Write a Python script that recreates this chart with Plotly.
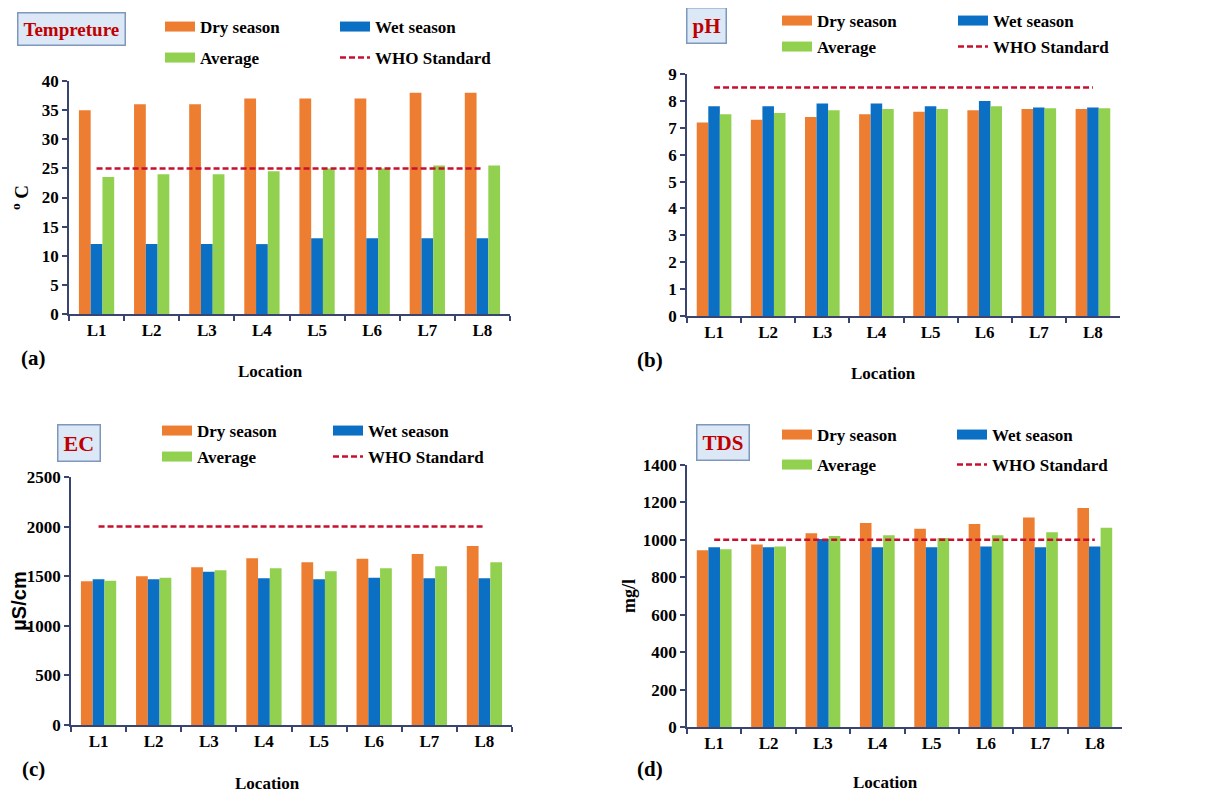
import plotly.graph_objects as go

W, H = 1210, 794
OFF = 8  # page body margin offset in the browser

# ---------------- data ----------------
locations = ["L1", "L2", "L3", "L4", "L5", "L6", "L7", "L8"]

temp_dry = [35, 36, 36, 37, 37, 37, 38, 38]
temp_wet = [12, 12, 12, 12, 13, 13, 13, 13]
temp_avg = [23.5, 24, 24, 24.5, 25, 25, 25.5, 25.5]
temp_who = [25, 25, 25, 25, 25, 25, 25, 25]

ph_dry = [7.2, 7.3, 7.4, 7.5, 7.6, 7.65, 7.7, 7.7]
ph_wet = [7.8, 7.8, 7.9, 7.9, 7.8, 8.0, 7.75, 7.75]
ph_avg = [7.5, 7.55, 7.65, 7.7, 7.7, 7.8, 7.73, 7.73]
ph_who = [8.5, 8.5, 8.5, 8.5, 8.5, 8.5, 8.5, 8.5]

ec_dry = [1450, 1500, 1590, 1680, 1640, 1675, 1725, 1805]
ec_wet = [1470, 1470, 1545, 1480, 1470, 1485, 1480, 1480]
ec_avg = [1455, 1485, 1560, 1580, 1550, 1580, 1600, 1640]
ec_who = [2000, 2000, 2000, 2000, 2000, 2000, 2000, 2000]

tds_dry = [945, 975, 1035, 1090, 1060, 1085, 1120, 1170]
tds_wet = [960, 960, 1005, 960, 960, 965, 960, 965]
tds_avg = [950, 965, 1020, 1025, 1010, 1025, 1040, 1065]
tds_who = [1000, 1000, 1000, 1000, 1000, 1000, 1000, 1000]

series_names = ["Dry season", "Wet season", "Average", "WHO Standard"]
panel_titles = ["Tempreture", "pH", "EC", "TDS"]
panel_letters = ["(a)", "(b)", "(c)", "(d)"]
y_titles = ["<sup>o</sup> C", None, "µS/cm", "mg/l"]
y_ranges = [[0, 40], [0, 9], [0, 2500], [0, 1400]]
y_dtick = [5, 1, 500, 200]

panels = [
    (temp_dry, temp_wet, temp_avg, temp_who),
    (ph_dry, ph_wet, ph_avg, ph_who),
    (ec_dry, ec_wet, ec_avg, ec_who),
    (tds_dry, tds_wet, tds_avg, tds_who),
]

# ---------------- styling ----------------
C_DRY = "#ED7D31"
C_WET = "#0B6FC4"
C_AVG = "#92D050"
C_WHO = "#C8102E"
AXIS_C = "#3A4470"
SERIF = "Liberation Serif"


def px_x(v):
    return (v - OFF) / W


def px_y(v):
    return 1 - (v - OFF) / H


# plot areas in pixels: (left, right, top, bottom)
areas = [
    (69, 510, 81, 314),
    (687, 1120, 74, 316),
    (71, 512, 477, 725),
    (687, 1122, 465, 727),
]
# legend layout per panel: (col1 text x, col2 text x, row1 y, row2 y)
leg_pos = [
    (200, 375, 27, 58),
    (817, 993, 21, 47),
    (197, 368, 431, 457),
    (817, 992, 435, 465),
]
# title boxes: (center x, center y, font size)
title_pos = [
    (71.5, 29, 19),
    (706, 25.5, 21),
    (79, 442.5, 22),
    (722.5, 442.5, 21),
]
letter_pos = [(33, 358), (650, 360), (33, 769), (650, 769)]
location_pos = [(270, 372), (883, 373), (267, 783), (885, 782)]
ytitle_standoff = [14, 0, 10, 3]
ytitle_font = [
    dict(family=SERIF, size=19, color="black", weight="bold"),
    dict(family=SERIF, size=18, color="black", weight="bold"),
    dict(family="Liberation Sans", size=20, color="black", weight="bold"),
    dict(family=SERIF, size=18, color="black", weight="bold"),
]

fig = go.Figure()
layout = {}
annotations = []

tick_font = dict(family=SERIF, size=17, color="black", weight="bold")
leg_font = dict(family=SERIF, size=17, color="black", weight="bold")

leg_idx = 1
for i, (dry, wet, avg, who) in enumerate(panels):
    n = i + 1
    xa = "x" if n == 1 else f"x{n}"
    ya = "y" if n == 1 else f"y{n}"
    xkey = "xaxis" if n == 1 else f"xaxis{n}"
    ykey = "yaxis" if n == 1 else f"yaxis{n}"
    L, R, T, B = areas[i]

    legs = []
    for k in range(4):
        lname = "legend" if leg_idx == 1 else f"legend{leg_idx}"
        legs.append(lname)
        leg_idx += 1

    for vals, col, name in [(dry, C_DRY, series_names[0]),
                            (wet, C_WET, series_names[1]),
                            (avg, C_AVG, series_names[2])]:
        fig.add_trace(go.Bar(x=locations, y=vals, marker=dict(color=col, line=dict(width=0)),
                             name=name, showlegend=False, xaxis=xa, yaxis=ya))
    fig.add_trace(go.Scatter(x=locations, y=who, mode="lines",
                             line=dict(color=C_WHO, width=2.5, dash="6px,3px"),
                             name=series_names[3], legend=legs[3], xaxis=xa, yaxis=ya))
    # legend swatches for the bar series
    for col, name, lg in [(C_DRY, series_names[0], legs[0]),
                          (C_WET, series_names[1], legs[1]),
                          (C_AVG, series_names[2], legs[2])]:
        fig.add_trace(go.Scatter(x=[None], y=[None], mode="lines",
                                 line=dict(color=col, width=10), name=name,
                                 legend=lg, xaxis=xa, yaxis=ya))

    c1, c2, r1, r2 = leg_pos[i]
    for lg, (tx, ty) in zip(legs, [(c1, r1), (c2, r1), (c1, r2), (c2, r2)]):
        layout[lg] = dict(x=px_x(tx - 40), y=px_y(ty), xanchor="left", yanchor="middle",
                          xref="paper", yref="paper",
                          bgcolor="rgba(0,0,0,0)", borderwidth=0, font=leg_font,
                          tracegroupgap=0)

    layout[xkey] = dict(domain=[px_x(L), px_x(R)], anchor=ya, type="category",
                        showline=True, linecolor=AXIS_C, linewidth=1.5,
                        ticks="outside", tickson="boundaries", ticklen=5,
                        tickcolor=AXIS_C, tickwidth=1.5,
                        tickfont=tick_font, showgrid=False, zeroline=False,
                        fixedrange=True)
    yax = dict(domain=[px_y(B), px_y(T)], anchor=xa,
               range=y_ranges[i], dtick=y_dtick[i], tick0=0,
               showline=True, linecolor=AXIS_C, linewidth=1.5,
               ticks="outside", ticklen=5, tickcolor=AXIS_C, tickwidth=1.5,
               tickfont=tick_font, showgrid=False, zeroline=False,
               fixedrange=True)
    if y_titles[i]:
        yax["title"] = dict(text=y_titles[i], font=ytitle_font[i],
                            standoff=ytitle_standoff[i])
    layout[ykey] = yax

    cx, cy, fs = title_pos[i]
    annotations.append(dict(text=panel_titles[i], x=px_x(cx), y=px_y(cy),
                            xref="paper", yref="paper", showarrow=False,
                            xanchor="center", yanchor="middle",
                            font=dict(family=SERIF, size=fs, color="#C00000", weight="bold"),
                            bgcolor="#DCE8F6", bordercolor="#7E97BD", borderwidth=1.5,
                            borderpad=5))
    lx, ly = letter_pos[i]
    annotations.append(dict(text=panel_letters[i], x=px_x(lx), y=px_y(ly),
                            xref="paper", yref="paper", showarrow=False,
                            xanchor="center", yanchor="middle",
                            font=dict(family=SERIF, size=21, color="black", weight="bold")))
    ox, oy = location_pos[i]
    annotations.append(dict(text="Location", x=px_x(ox), y=px_y(oy),
                            xref="paper", yref="paper", showarrow=False,
                            xanchor="center", yanchor="middle",
                            font=dict(family=SERIF, size=17, color="black", weight="bold")))

fig.update_layout(
    width=W, height=H,
    margin=dict(l=0, r=0, t=0, b=0, autoexpand=False),
    paper_bgcolor="white", plot_bgcolor="white",
    barmode="group", bargap=0.36, bargroupgap=0,
    annotations=annotations,
    **layout,
)

fig.write_html("out.html")
